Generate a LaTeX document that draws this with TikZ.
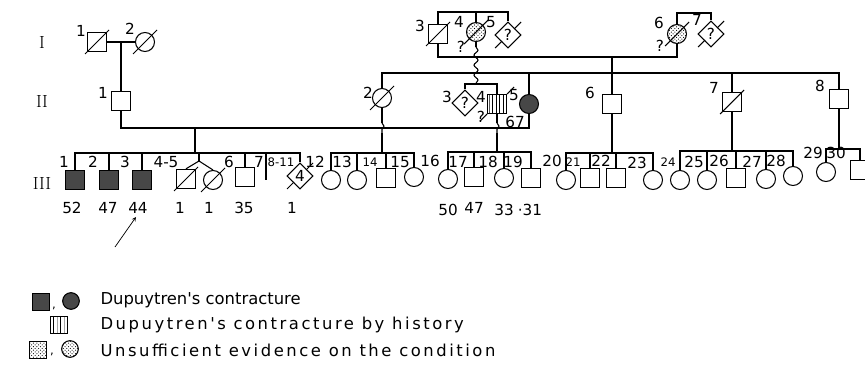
\documentclass[tikz,border=0pt]{standalone}
\usepackage{fontspec}
\newfontfamily\pedfont{DejaVu Sans}
\newfontfamily\pedwidefont{DejaVu Sans}[LetterSpace=15.5]
\usetikzlibrary{shapes.geometric, arrows, positioning, patterns, decorations.pathmorphing}

\newcommand{\lblfont}{\pedfont\fontsize{13}{13}\selectfont}
\newcommand{\smalllbl}{\pedfont\fontsize{10}{10}\selectfont}
\newcommand{\legfont}{\pedfont\fontsize{14}{16}\selectfont}
\newcommand{\legwidefont}{\pedwidefont\fontsize{14}{16}\selectfont}
\newcommand{\genfont}{\rmfamily\fontsize{15}{15}\selectfont}
% slash through a deceased person, or only its two outer ticks
\newcommand{\deadmark}[1]{\draw (#1.center) ++(-12,12) -- ++(24,-24);}
\newcommand{\deadtick}[2]{\draw (#1.center) ++(-#2-7,#2+7) -- ++(7,-7); \draw (#1.center) ++(#2,-#2) -- ++(7,-7);}

\begin{document}
\begin{tikzpicture}[
    x=0.03cm, y=-0.03cm, line width=0.9pt,
    male/.style={rectangle, draw=black, minimum size=0.58cm, inner sep=0pt},
    female/.style={circle, draw=black, minimum size=0.57cm, inner sep=0pt},
    unknown/.style={diamond, draw=black, fill=white, minimum size=0.78cm, inner sep=0pt, font=\lblfont},
    affected/.style={fill=black!72},
    history/.style={pattern=vertical lines},
    doubtful/.style={pattern=crosshatch dots},
    lbl/.style={font=\lblfont, inner sep=0pt},
    small lbl/.style={font=\smalllbl, inner sep=0pt},
    gen/.style={font=\genfont, inner sep=0pt},
    legend/.style={font=\legfont, anchor=west, inner sep=0pt},
    wide legend/.style={font=\legwidefont, anchor=west, inner sep=0pt},
    jump/.style={decorate, decoration={snake, amplitude=0.06cm, segment length=0.3cm}},
    arrow/.style={line width=0.6pt,->,>=stealth}
]
\clip (0,0) rectangle (865,366);

% generation I
\node (gI) [gen] at (42,42) {I};
\node (I1) [male] at (97,42) {};
\node (I2) [female] at (145,42) {};
\node (I3) [male] at (438,34) {};
\node (I4) [female, doubtful] at (476,32) {};
\node (I5) [unknown] at (508,35) {?};
\node (I6) [female, doubtful] at (677,34) {};
\node (I7) [unknown] at (711,34) {?};

\node (lI1) [lbl] at (81,31) {1};
\node (lI2) [lbl] at (130,29) {2};
\node (lI3) [lbl] at (420,26) {3};
\node (lI4) [lbl] at (459,22) {4};
\node (qI4) [lbl] at (461,47) {?};
\node (lI5) [lbl] at (491,22) {5};
\node (lI6) [lbl] at (659,23) {6};
\node (qI6) [lbl] at (660,46) {?};
\node (lI7) [lbl] at (697,20) {7};

\deadmark{I1} \deadmark{I2} \deadmark{I3} \deadmark{I4} \deadmark{I6}
\deadtick{I5}{6} \deadtick{I7}{6}

\coordinate (mI12) at (121,42);
\draw (I1) -- (I2);
\coordinate (sI3) at (438,12);
\coordinate (sI5) at (508,12);
\draw (I3) -- (sI3) -- (sI5) -- (I5);
\draw (I4 |- sI3) -- (I4);
\coordinate (sI6) at (677,13);
\coordinate (sI7) at (711,13);
\draw (I6) -- (sI6) -- (sI7) -- (I7);
\coordinate (mI3) at (438,57);
\coordinate (mI6) at (677,57);
\draw (I3) -- (mI3) -- (mI6) -- (I6);
\coordinate (dI36) at (612,57);

% generation II
\node (gII) [gen] at (42,101) {II};
\node (II1) [male] at (121,101) {};
\node (II2) [female] at (382,98) {};
\node (II3) [unknown] at (465,103) {?};
\node (II4) [male, history] at (497,104) {};
\node (II5) [female, affected] at (529,104) {};
\node (II6) [male] at (612,104) {};
\node (II7) [male] at (732,102) {};
\node (II8) [male] at (839,99) {};

\node (lII1) [lbl] at (103,93) {1};
\node (lII2) [lbl] at (368,93) {2};
\node (lII3) [lbl] at (447,97) {3};
\node (lII4) [lbl] at (481,97) {4};
\node (qII4) [lbl] at (481,117) {?};
\node (lII5) [lbl] at (514,95) {5};
\node (aII5) [lbl] at (515,122) {67};
\node (lII6) [lbl] at (590,93) {6};
\node (lII7) [lbl] at (714,88) {7};
\node (lII8) [lbl] at (820,86) {8};

\deadmark{II2} \deadmark{II7}
\deadtick{II4}{10}

\draw (mI12) -- (II1);
\coordinate (sII2) at (382,73);
\coordinate (sII8) at (839,73);
\draw (II2) -- (sII2) -- (sII8) -- (II8);
\draw (dI36) -- (II6);
\draw (II5 |- sII2) -- (II5);
\draw (II7 |- sII2) -- (II7);
\coordinate (wI4) at (476,47);
\coordinate (sII3) at (465,84);
\coordinate (sII4) at (497,84);
\draw (I4) -- (wI4);
\draw [jump] (wI4) -- (wI4 |- sII3);
\draw (II3) -- (sII3) -- (sII4) -- (II4);
\coordinate (mII1) at (121,128);
\coordinate (mII5) at (529,128);
\draw (II1) -- (mII1) -- (mII5) -- (II5);
\coordinate (dII15) at (195,128);

% generation III
\node (gIII) [gen] at (42,183) {III};
\node (III1) [male, affected] at (75,180) {};
\node (III2) [male, affected] at (109,180) {};
\node (III3) [male, affected] at (142,180) {};
\node (III4) [male] at (186,179) {};
\node (III5) [female] at (213,180) {};
\node (III6) [male] at (245,177) {};
\coordinate (III7) at (266,180);
\node (III8) [unknown] at (300,176) {4};
\node (III12) [female] at (331,180) {};
\node (III13) [female] at (357,180) {};
\node (III14) [male] at (386,178) {};
\node (III15) [female] at (414,177) {};
\node (III16) [female] at (448,179) {};
\node (III17) [male] at (474,177) {};
\node (III18) [female] at (504,178) {};
\node (III19) [male] at (531,178) {};
\node (III20) [female] at (566,180) {};
\node (III21) [male] at (590,178) {};
\node (III22) [male] at (616,178) {};
\node (III23) [female] at (653,180) {};
\node (III24) [female] at (680,180) {};
\node (III25) [female] at (707,180) {};
\node (III26) [male] at (736,178) {};
\node (III27) [female] at (766,179) {};
\node (III28) [female] at (793,176) {};
\node (III29) [female] at (826,172) {};
\node (III30) [male] at (860,170) {};

\deadmark{III4} \deadmark{III5}
\deadtick{III8}{6}

\node (lIII1) [lbl] at (64,162) {1};
\node (lIII2) [lbl] at (93,162) {2};
\node (lIII3) [lbl] at (125,162) {3};
\node (lIII4) [lbl] at (166,162) {4-5};
\node (lIII6) [lbl] at (229,162) {6};
\node (lIII7) [lbl] at (259,162) {7};
\node (lIII8) [small lbl] at (281,162) {8-11};
\node (lIII12) [lbl] at (315,162) {12};
\node (lIII13) [lbl] at (342,162) {13};
\node (lIII14) [small lbl] at (370,162) {14};
\node (lIII15) [lbl] at (400,162) {15};
\node (lIII16) [lbl] at (430,161) {16};
\node (lIII17) [lbl] at (458,162) {17};
\node (lIII18) [lbl] at (488,162) {18};
\node (lIII19) [lbl] at (513,162) {19};
\node (lIII20) [lbl] at (552,161) {20};
\node (lIII21) [small lbl] at (573,162) {21};
\node (lIII22) [lbl] at (601,161) {22};
\node (lIII23) [lbl] at (637,163) {23};
\node (lIII24) [small lbl] at (668,162) {24};
\node (lIII25) [lbl] at (694,162) {25};
\node (lIII26) [lbl] at (719,161) {26};
\node (lIII27) [lbl] at (752,162) {27};
\node (lIII28) [lbl] at (776,161) {28};
\node (lIII29) [lbl] at (813,153) {29};
\node (lIII30) [lbl] at (836,153) {30};

\node (aIII1) [lbl] at (72,208) {52};
\node (aIII2) [lbl] at (108,208) {47};
\node (aIII3) [lbl] at (138,208) {44};
\node (aIII4) [lbl] at (180,208) {1};
\node (aIII5) [lbl] at (209,208) {1};
\node (aIII6) [lbl] at (244,208) {35};
\node (aIII8) [lbl] at (292,208) {1};
\node (aIII16) [lbl] at (448,210) {50};
\node (aIII17) [lbl] at (474,208) {47};
\node (aIII18) [lbl] at (504,210) {33};
\node (aIII19) [lbl] at (530,210) {·31};

% sibship of II-1 and II-5
\coordinate (sA1) at (75,153);
\coordinate (sA8) at (300,153);
\draw (dII15) -- (dII15 |- sA1);
\draw (III1) -- (sA1) -- (sA8) -- (III8);
\draw (III2 |- sA1) -- (III2);
\draw (III3 |- sA1) -- (III3);
\draw (III6 |- sA1) -- (III6);
\draw (III7 |- sA1) -- (III7);
\coordinate (tw45) at (199,161);
\draw (tw45 |- sA1) -- (tw45);
\draw (tw45) -- (III4.north);
\draw (tw45) -- (III5.north);

% sibship of II-2
\coordinate (jII2a) at (382,123);
\coordinate (jII2b) at (382,133);
\coordinate (sB1) at (331,153);
\coordinate (sB4) at (414,153);
\draw (II2) -- (jII2a);
\draw [jump] (jII2a) -- (jII2b);
\draw (jII2b) -- (jII2b |- sB1);
\draw (III12) -- (sB1) -- (sB4) -- (III15);
\draw (III13 |- sB1) -- (III13);
\draw (III14 |- sB1) -- (III14);

% sibship of II-4
\coordinate (jII4a) at (497,123);
\coordinate (jII4b) at (497,133);
\coordinate (sC1) at (448,152);
\coordinate (sC4) at (531,152);
\draw (II4) -- (jII4a);
\draw [jump] (jII4a) -- (jII4b);
\draw (jII4b) -- (jII4b |- sC1);
\draw (III16) -- (sC1) -- (sC4) -- (III19);
\draw (III17 |- sC1) -- (III17);
\draw (III18 |- sC1) -- (III18);

% sibship of II-6
\coordinate (sD1) at (566,153);
\coordinate (sD4) at (653,153);
\draw (II6) -- (II6 |- sD1);
\draw (III20) -- (sD1) -- (sD4) -- (III23);
\draw (III21 |- sD1) -- (III21);
\draw (III22 |- sD1) -- (III22);

% sibship of II-7
\coordinate (sE1) at (680,151);
\coordinate (sE5) at (793,151);
\draw (II7) -- (II7 |- sE1);
\draw (III24) -- (sE1) -- (sE5) -- (III28);
\draw (III25 |- sE1) -- (III25);
\draw (III26 |- sE1) -- (III26);
\draw (III27 |- sE1) -- (III27);

% sibship of II-8
\coordinate (sF1) at (826,149);
\coordinate (sF2) at (860,149);
\draw (II8) -- (II8 |- sF1);
\draw (III29) -- (sF1) -- (sF2) -- (III30);

% proband
\coordinate (arrT) at (115,247);
\coordinate (arrH) at (136,217);
\draw [arrow] (arrT) -- (arrH);

% legend
\node (legA1) [male, affected, minimum size=0.5cm] at (41,302) {};
\node (legC1) [small lbl] at (54,308) {,};
\node (legA2) [female, affected, minimum size=0.5cm] at (71,301) {};
\node (legAt) [legend] at (100,300) {Dupuytren's contracture};
\node (legH) [male, history, minimum size=0.5cm] at (59,325) {};
\node (legHt) [wide legend] at (100,325) {Dupuytren's contracture by history};
\node (legD1) [male, doubtful, minimum size=0.5cm] at (38,350) {};
\node (legC2) [small lbl] at (52,354) {,};
\node (legD2) [female, doubtful, minimum size=0.5cm] at (70,349) {};
\node (legDt) [wide legend] at (100,350) {Unsufficient evidence on the condition};

\end{tikzpicture}
\end{document}
